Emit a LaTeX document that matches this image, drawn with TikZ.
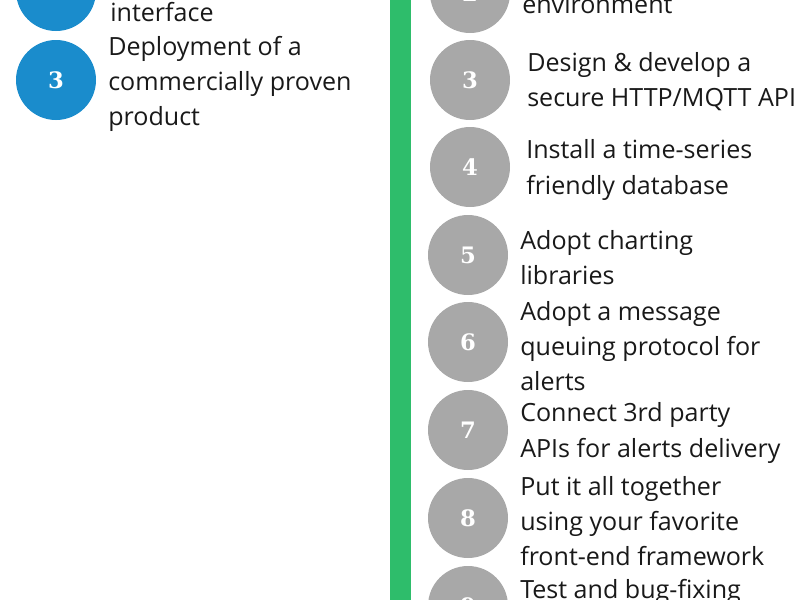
\documentclass[tikz,border=0pt]{standalone}
\usepackage{fontspec}
\setmainfont{Open Sans}
\newfontfamily\numfont{DejaVu Serif}
\definecolor{cblue}{HTML}{1A8CCC}
\definecolor{cgray}{HTML}{A8A8A8}
\definecolor{cgreen}{HTML}{2EBD6B}
\tikzset{
  bc/.style={circle,fill=cblue,minimum size=60pt,inner sep=0,text=white,font=\numfont\bfseries\fontsize{17}{17}\selectfont},
  gc/.style={circle,fill=cgray,minimum size=60pt,inner sep=0,text=white,font=\numfont\bfseries\fontsize{17}{17}\selectfont},
  txt/.style={anchor=west,align=left,inner sep=0,text=black!90,font=\fontsize{18.8}{26.3}\selectfont}
}
\begin{document}
\begin{tikzpicture}[x=0.75pt,y=-0.75pt]
\useasboundingbox (0,0) rectangle (800,600);
\fill[cgreen] (390,-5) rectangle (411,605);
\node[bc] (l2) at (56,-9) {2};
\node[bc] (l3) at (56,80) {3};
\node[txt] (tl2) at (110,12) {interface};
\node[txt] (tl3) at (108,84) {Deployment of a\\commercially proven\\product};
\node[gc] (r2) at (470,-7) {2};
\node[gc] (r3) at (470,80) {3};
\node[gc] (r4) at (470,167) {4};
\node[gc] (r5) at (468,255) {5};
\node[gc] (r6) at (468,342) {6};
\node[gc] (r7) at (468,430) {7};
\node[gc] (r8) at (468,518) {8};
\node[gc] (r9) at (468,606) {9};
\node[txt] (t2) at (522,4) {environment};
\node[txt] (t3) at (527,82) {Design \& develop a\\secure HTTP/MQTT API};
\node[txt] (t4) at (526,170) {Install a time-series\\friendly database};
\node[txt] (t5) at (520,258) {Adopt charting\\libraries};
\node[txt] (t6) at (520,346) {Adopt a message\\queuing protocol for\\alerts};
\node[txt] (t7) at (520,433) {Connect 3rd party\\APIs for alerts delivery};
\node[txt] (t8) at (520,521) {Put it all together\\using your favorite\\front-end framework};
\node[txt] (t9) at (520,592) {Test and bug-fixing};
\end{tikzpicture}
\end{document}
